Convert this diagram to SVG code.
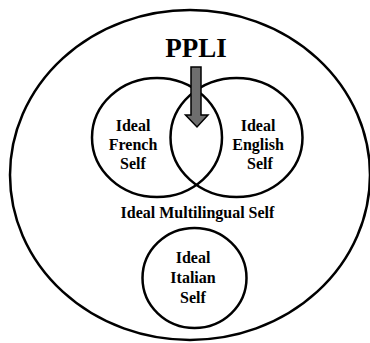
<svg xmlns="http://www.w3.org/2000/svg" width="370" height="343" viewBox="0 0 370 343">
<style>
.c{fill:none;stroke:#000;stroke-width:2.5}
.t{font-family:"Liberation Serif","Times New Roman",serif;font-weight:bold;font-size:16px;text-anchor:middle;fill:#000}
</style>
<rect width="370" height="343" fill="#fff"/>
<g id="outer"><ellipse class="c" cx="190" cy="175" rx="180" ry="165"/>
<text class="t" x="197.5" y="218">Ideal Multilingual Self</text></g>
<g id="french"><ellipse class="c" cx="157" cy="137.5" rx="65" ry="59.5"/>
<text class="t" x="133" y="131">Ideal</text><text class="t" x="133" y="150">French</text><text class="t" x="133" y="169">Self</text></g>
<g id="english"><ellipse class="c" cx="236.5" cy="137.5" rx="66" ry="59.5"/>
<text class="t" x="258" y="131">Ideal</text><text class="t" x="258" y="150">English</text><text class="t" x="260" y="169">Self</text></g>
<g id="italian"><ellipse class="c" cx="194.5" cy="278" rx="52" ry="50"/>
<text class="t" x="193" y="263">Ideal</text><text class="t" x="193" y="283">Italian</text><text class="t" x="193" y="303">Self</text></g>
<g id="ppli"><text class="t" x="196" y="57" style="font-size:27px">PPLI</text></g>
<g id="connectors"><path d="M191,67 H201 V115 H208 L197,127 L185.5,115 H191 Z" fill="#6e6e6e" stroke="#000" stroke-width="1.5"/></g>
</svg>
